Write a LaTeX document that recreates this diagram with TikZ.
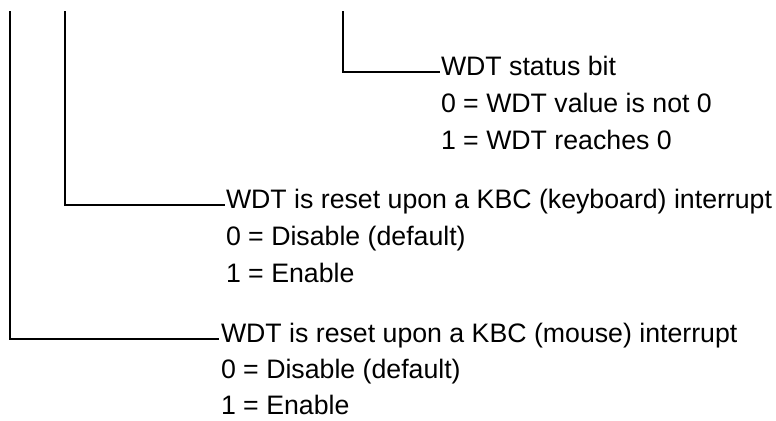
\documentclass[tikz,border=0pt]{standalone}
\usepackage{fontspec}
\setmainfont{Liberation Sans}
\begin{document}
\begin{tikzpicture}[x=1bp,y=-1bp,
  lbl/.style={inner sep=0pt, outer sep=0pt, anchor=base west,
              font=\fontsize{26.7bp}{32bp}\selectfont},
  wire/.style={line width=1.4bp, line cap=rect}]
\useasboundingbox (0,0) rectangle (776,420);

% bit descriptions
\node[lbl] (st)  at (441,75)  {WDT status bit};
\node[lbl] (st0) at (441,112) {0 = WDT value is not 0};
\node[lbl] (st1) at (441,149) {1 = WDT reaches 0};

\node[lbl] (kb)  at (226,208) {WDT is reset upon a KBC (keyboard) interrupt};
\node[lbl] (kb0) at (226,245) {0 = Disable (default)};
\node[lbl] (kb1) at (226,282) {1 = Enable};

\node[lbl] (ms)  at (221,342) {WDT is reset upon a KBC (mouse) interrupt};
\node[lbl] (ms0) at (221,378) {0 = Disable (default)};
\node[lbl] (ms1) at (221,414) {1 = Enable};

% leader lines coming down from the register bits
\coordinate (tS) at (343,12);
\coordinate (tK) at (65,12);
\coordinate (tM) at (10,12);

\draw[wire] (tS) |- ([shift={(-2,-3)}]st.base west);
\draw[wire] (tK) |- ([shift={(-2,-3)}]kb.base west);
\draw[wire] (tM) |- ([shift={(-3,-3)}]ms.base west);
\end{tikzpicture}
\end{document}
